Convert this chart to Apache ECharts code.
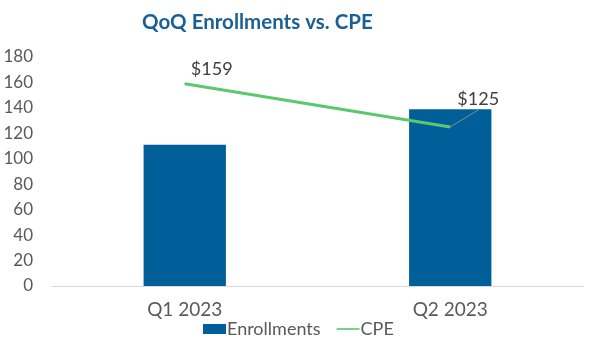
<!DOCTYPE html>
<html>
<head>
<meta charset="utf-8">
<script src="https://cdn.jsdelivr.net/npm/echarts@6/dist/echarts.min.js"></script>
<style>
html, body { margin: 0; padding: 0; background: #fff; }
#main { width: 600px; height: 354px; }
</style>
</head>
<body>
<div id="main"></div>
<script>
// chart data
const categories = ['Q1 2023', 'Q2 2023'];
const enrollments = [111, 139];
const cpe = [159, 125];
const cpeLabels = ['$159', '$125'];

// label shifts from the default 'top' position
const labelShift = [[27, 0], [28, -13]];

const myChart = echarts.init(document.getElementById('main'));

myChart.setOption({
    animation: false,
    textStyle: { fontFamily: 'Lato' },
    title: {
        text: 'QoQ Enrollments vs. CPE',
        left: 137,
        top: 7,
        textStyle: { color: '#1a5f96', fontSize: 20.5, fontWeight: 'bold', fontFamily: 'Lato' }
    },
    legend: {
        bottom: 11,
        left: 198,
        itemGap: 16,
        itemWidth: 23,
        itemHeight: 10,
        textStyle: { color: '#595959', fontSize: 18, padding: [0, 0, 0, -4] },
        data: [
            { name: 'Enrollments', icon: 'rect' },
            { name: 'CPE', icon: 'path://M0,4 L28,4 L28,6 L0,6 Z' }
        ]
    },
    grid: { left: 52, right: 17, top: 57, bottom: 68 },
    xAxis: {
        type: 'category',
        data: categories,
        axisTick: { show: false },
        axisLine: { lineStyle: { color: '#d9d9d9' } },
        axisLabel: { color: '#595959', fontSize: 19, margin: 14 }
    },
    yAxis: {
        type: 'value',
        min: 0,
        max: 180,
        interval: 20,
        splitLine: { show: false },
        axisLabel: { color: '#595959', fontSize: 17, margin: 19 }
    },
    series: [{
        name: 'Enrollments',
        type: 'bar',
        data: enrollments,
        barWidth: '31%',
        itemStyle: { color: '#005f99' }
    }, {
        name: 'CPE',
        type: 'line',
        data: cpe,
        symbol: 'circle',
        symbolSize: 1,
        z: 3,
        lineStyle: { color: '#5cc86e', width: 3 },
        itemStyle: { color: '#5cc86e' },
        label: {
            show: true,
            position: 'top',
            color: '#404040',
            fontSize: 18,
            formatter: function (p) { return cpeLabels[p.dataIndex]; }
        },
        labelLayout: function (params) {
            const s = labelShift[params.dataIndex];
            return { dx: s[0], dy: s[1] };
        }
    }]
});

// leader line for the $125 label
const p = myChart.convertToPixel({ seriesIndex: 1 }, [1, cpe[1]]);
myChart.setOption({
    graphic: [{
        type: 'line',
        z: 10,
        shape: { x1: p[0], y1: p[1], x2: p[0] + 28, y2: p[1] - 17 },
        style: { stroke: '#8c8c8c', lineWidth: 1 }
    }]
});
</script>
</body>
</html>
